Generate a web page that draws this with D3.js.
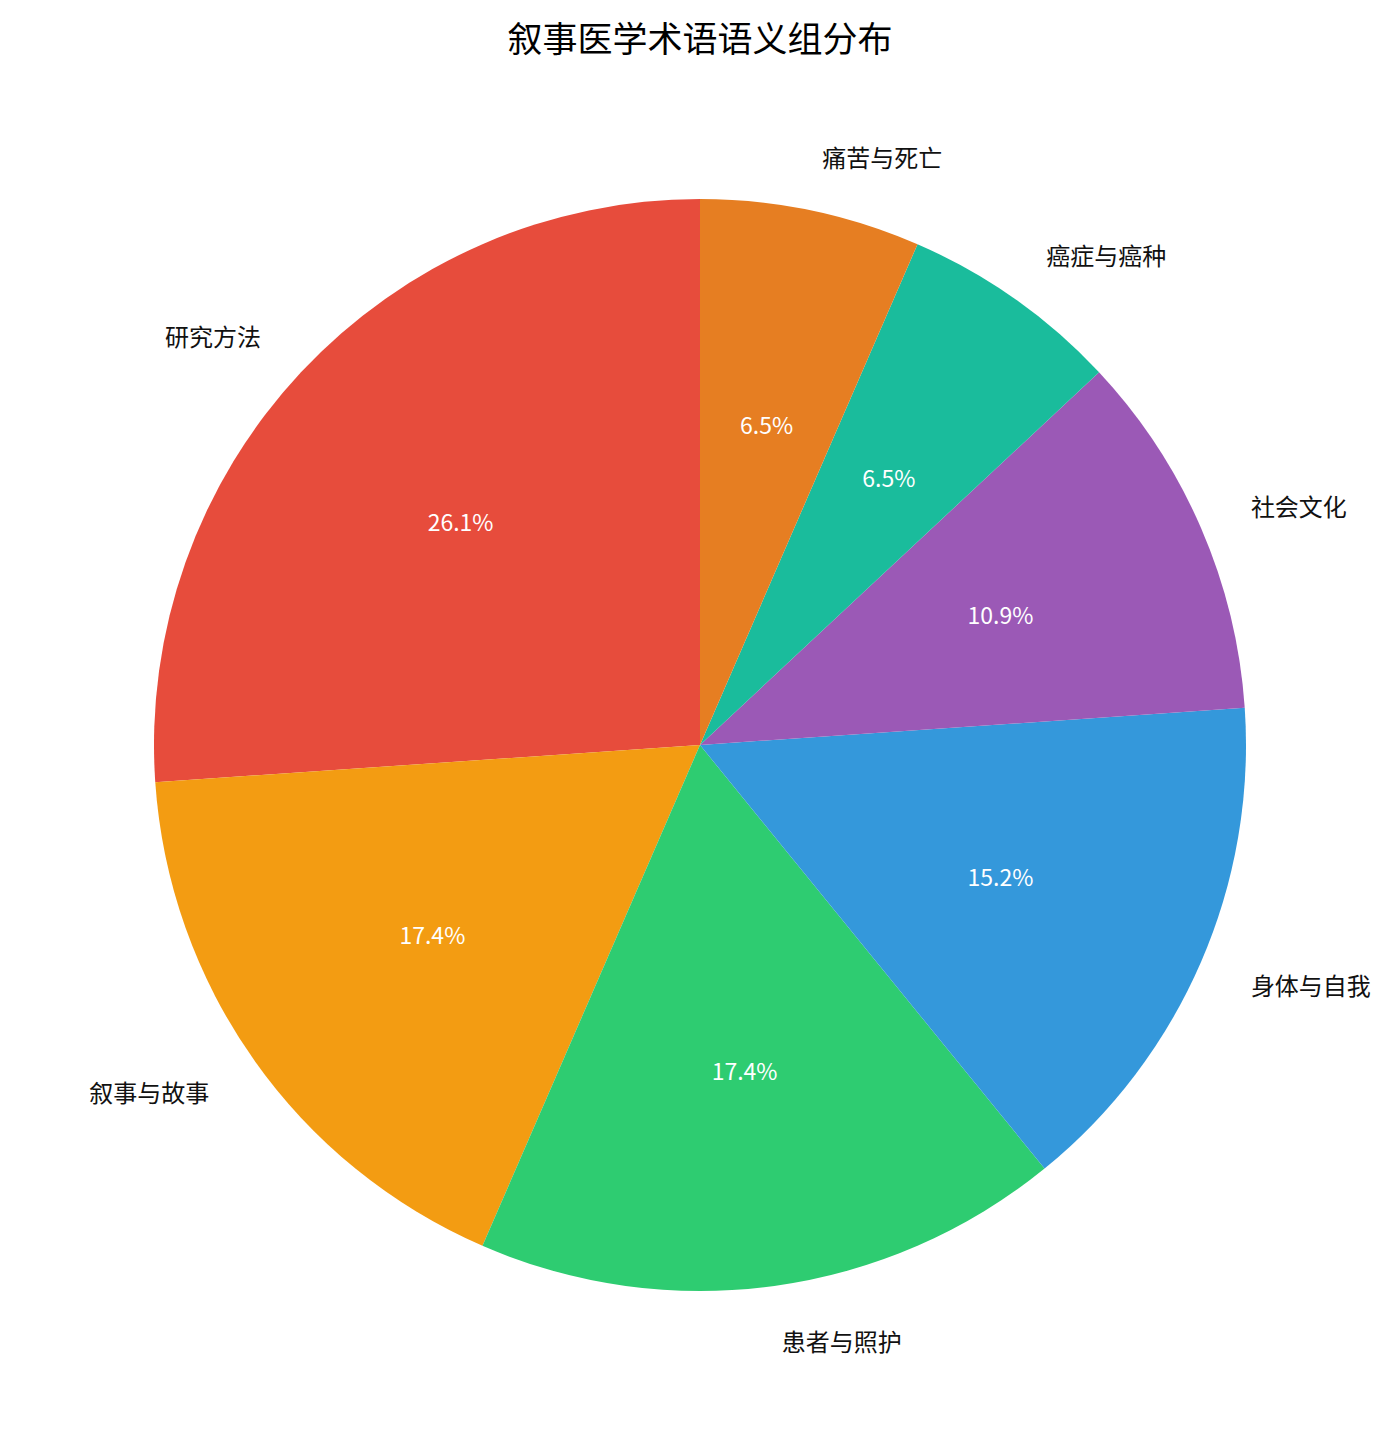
<!DOCTYPE html>
<html lang="zh">
<head>
<meta charset="UTF-8">
<title>叙事医学术语语义组分布</title>
<script src="https://d3js.org/d3.v7.min.js"></script>
<style>
    body { margin: 0; background: #fff; }
    text { font-family: "Noto Sans CJK SC", "Noto Sans", sans-serif; }
</style>
</head>
<body>
<svg id="chart" width="1400" height="1444"></svg>
<script>
    const categories = ["研究方法", "叙事与故事", "患者与照护", "身体与自我", "社会文化", "癌症与癌种", "痛苦与死亡"];
    const counts = [12, 8, 8, 7, 5, 3, 3];
    const colors = ["#e74c3c", "#f39c12", "#2ecc71", "#3498db", "#9b59b6", "#1abc9c", "#e67e22"];

    const svg = d3.select("#chart");
    const cx = 700, cy = 745, radius = 546;
    const total = d3.sum(counts);

    svg.append("text")
        .attr("x", 700)
        .attr("y", 36)
        .attr("text-anchor", "middle")
        .attr("dominant-baseline", "central")
        .attr("font-size", 35)
        .text("叙事医学术语语义组分布");

    const data = categories.map((c, i) => ({ name: c, value: counts[i], color: colors[i] }));

    // matplotlib style: start at top, go counter-clockwise
    const pie = d3.pie()
        .value(d => d.value)
        .sort(null)
        .startAngle(0)
        .endAngle(-2 * Math.PI);

    const arcs = pie(data);
    const arc = d3.arc().innerRadius(0).outerRadius(radius);

    const g = svg.append("g").attr("transform", "translate(" + cx + "," + cy + ")");

    g.selectAll("path")
        .data(arcs)
        .join("path")
        .attr("d", arc)
        .attr("fill", d => d.data.color);

    // d3 angle: 0 at top, clockwise positive
    const pos = (d, k) => {
        const a = (d.startAngle + d.endAngle) / 2;
        return [k * radius * Math.sin(a), -k * radius * Math.cos(a)];
    };

    g.selectAll("text.label")
        .data(arcs)
        .join("text")
        .attr("class", "label")
        .attr("x", d => pos(d, 1.1)[0])
        .attr("y", d => pos(d, 1.1)[1])
        .attr("text-anchor", d => pos(d, 1.1)[0] > 0 ? "start" : "end")
        .attr("dominant-baseline", "central")
        .attr("font-size", 24)
        .attr("fill", "#111")
        .text(d => d.data.name);

    g.selectAll("text.pct")
        .data(arcs)
        .join("text")
        .attr("class", "pct")
        .attr("x", d => pos(d, 0.6)[0])
        .attr("y", d => pos(d, 0.6)[1])
        .attr("text-anchor", "middle")
        .attr("dominant-baseline", "central")
        .attr("font-size", 23)
        .attr("fill", "#fff")
        .text(d => (d.data.value / total * 100).toFixed(1) + "%");
</script>
</body>
</html>
